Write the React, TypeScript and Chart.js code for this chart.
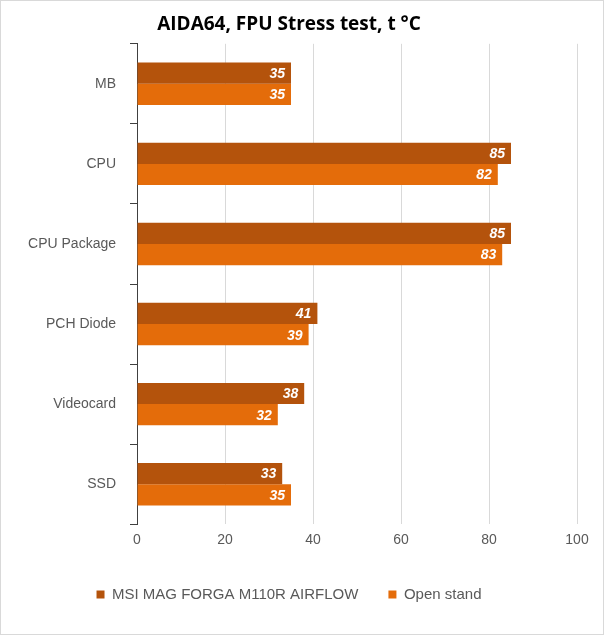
import React, { useEffect, useRef } from "react";
import { Chart, registerables } from "chart.js";
Chart.register(...registerables);

const categories = ["MB", "CPU", "CPU Package", "PCH Diode", "Videocard", "SSD"];
const msiValues = [35, 85, 85, 41, 38, 33];
const openValues = [35, 82, 83, 39, 32, 35];
const seriesNames = ["MSI MAG FORGA M110R AIRFLOW", "Open stand"];

const labelPlugin = {
  id: "barLabels",
  afterDatasetsDraw(chart: any) {
    const ctx = chart.ctx;
    ctx.save();
    ctx.fillStyle = "#ffffff";
    ctx.font = "italic bold 14px Arial, 'Liberation Sans', sans-serif";
    ctx.textAlign = "right";
    ctx.textBaseline = "middle";
    chart.data.datasets.forEach((ds: any, i: number) => {
      chart.getDatasetMeta(i).data.forEach((bar: any, j: number) => {
        ctx.fillText(String(ds.data[j]), bar.x - 6, bar.y + 1);
      });
    });
    ctx.restore();
  },
};

export default function App() {
  const ref = useRef<HTMLCanvasElement>(null);
  useEffect(() => {
    document.body.style.margin = "0";
    const chart = new Chart(ref.current!, {
      type: "bar",
      data: {
        labels: categories,
        datasets: [
          { label: seriesNames[0], data: msiValues, backgroundColor: "#B4530C", barPercentage: 1, categoryPercentage: 0.53 },
          { label: seriesNames[1], data: openValues, backgroundColor: "#E46C0A", barPercentage: 1, categoryPercentage: 0.53 },
        ],
      },
      options: {
        indexAxis: "y",
        animation: false,
        responsive: false,
        layout: { padding: { left: 0, right: 26, top: 0, bottom: 22 } },
        scales: {
          x: {
            min: 0, max: 100,
            ticks: { stepSize: 20, color: "#595959", padding: 8, font: { family: "Arial, 'Liberation Sans'", size: 14 } },
            grid: { color: "#d9d9d9", drawTicks: false },
            border: { display: false },
          },
          y: {
            afterFit: (s: any) => { s.width = 136; },
            ticks: { color: "#595959", padding: 14, font: { family: "Arial, 'Liberation Sans'", size: 14 } },
            grid: { offset: true, drawOnChartArea: false, tickLength: 7, color: "#404040" },
            border: { color: "#404040" },
          },
        },
        plugins: {
          title: {
            display: true, text: "AIDA64, FPU Stress test, t °C", color: "#000",
            font: { family: "'Open Sans', Arial", size: 19, weight: "bold" }, padding: { top: 12, bottom: 8 },
          },
          legend: {
            position: "bottom",
            labels: { boxWidth: 8, boxHeight: 8, color: "#595959", padding: 30, font: { family: "Arial, 'Liberation Sans'", size: 15 } },
          },
          tooltip: { enabled: false },
        },
      },
      plugins: [labelPlugin],
    });
    return () => chart.destroy();
  }, []);
  return (
    <div style={{ width: 602, height: 633, border: "1px solid #d9d9d9", background: "#fff" }}>
      <canvas ref={ref} width={602} height={633} />
    </div>
  );
}
